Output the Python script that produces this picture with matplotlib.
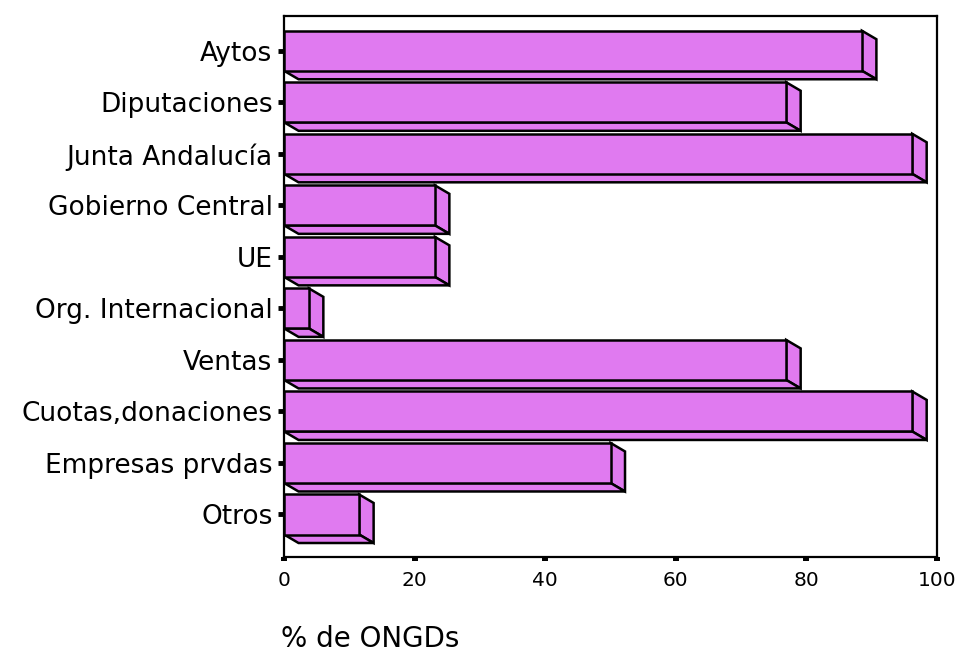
import matplotlib
matplotlib.use("Agg")
import matplotlib.pyplot as plt
from matplotlib.patches import Polygon

# Funding sources and share of NGOs (%) receiving each
categories = ["Aytos", "Diputaciones", "Junta Andalucía", "Gobierno Central", "UE",
              "Org. Internacional", "Ventas", "Cuotas,donaciones", "Empresas prvdas", "Otros"]
values = [88.5, 76.9, 96.2, 23.1, 23.1, 3.8, 76.9, 96.2, 50.0, 11.5]
xticks = [0, 20, 40, 60, 80, 100]
xlabel = "% de ONGDs"

face = "#E07AF0"
edge = "black"
lw = 1.8
bar_h = 0.777       # front face height (category units)
depth_x = 2.22      # extrusion to the right (data units)
depth_y = 0.165     # extrusion downward (category units)

plt.rcParams["font.family"] = ["DejaVu Sans"]

fig = plt.figure(figsize=(9.57, 6.51), dpi=100)
ax = fig.add_axes([0.2968, 0.1444, 0.9791 - 0.2968, 0.9754 - 0.1444])

ypos = list(range(len(categories)))
ax.barh(ypos, values, height=bar_h, color=face, edgecolor=edge, linewidth=lw, zorder=3)

for y, v in zip(ypos, values):
    top = y - bar_h / 2
    bot = y + bar_h / 2
    side = [(v, top), (v + depth_x, top + depth_y), (v + depth_x, bot + depth_y), (v, bot)]
    under = [(0, bot), (v, bot), (v + depth_x, bot + depth_y), (depth_x, bot + depth_y)]
    for pts in (side, under):
        ax.add_patch(Polygon(pts, closed=True, facecolor=face, edgecolor=edge,
                             linewidth=lw, joinstyle="miter", zorder=2))

ax.set_xlim(0, 100)
ax.set_ylim(9.825, -0.674)
ax.set_yticks(ypos)
ax.set_yticklabels(categories, fontsize=19)
ax.set_xticks(xticks)
ax.set_xticklabels([str(t) for t in xticks], fontsize=14.5)

ax.tick_params(axis="y", direction="out", length=4.3, width=3.5, pad=4, color="black")
ax.tick_params(axis="x", direction="out", length=3, width=4.3, pad=7, color="black")

for s in ax.spines.values():
    s.set_linewidth(1.6)
    s.set_color("black")

ax.text(-0.004, -0.166, xlabel, transform=ax.transAxes, fontsize=20,
        ha="left", va="baseline")

fig.savefig("out.png", dpi=100)
